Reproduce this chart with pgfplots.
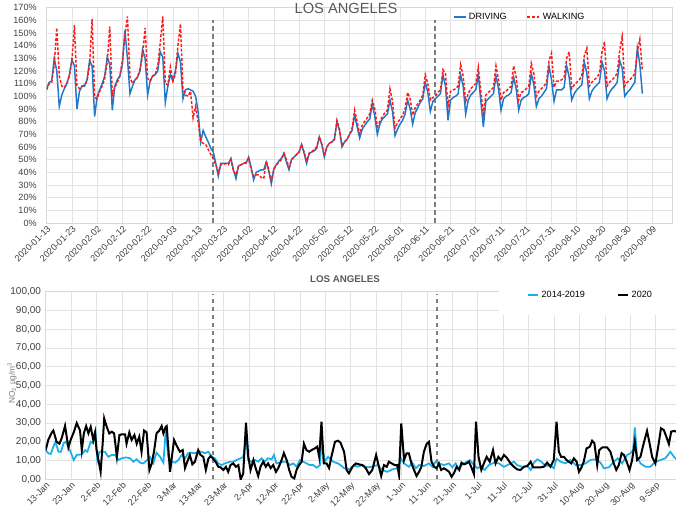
\documentclass[border=0pt]{standalone}
\usepackage{fontspec}
\setmainfont{Liberation Sans}
\usepackage{pgfplots}
\pgfplotsset{compat=1.18}
\usepackage{pgfplotstable}

\definecolor{drivecol}{HTML}{1F78C8}
\definecolor{walkcol}{HTML}{FF1A1A}
\definecolor{histcol}{HTML}{1AAEEA}
\definecolor{vline}{HTML}{7F7F7F}
\definecolor{txt}{HTML}{404040}
\definecolor{ttl}{HTML}{595959}

% day 0 = 2020-01-13, driving / walking (%)
\pgfplotstableread{
d D W
0 106 105
1 111 110
2 112 111
3 130 125
4 120 154
5 92 116
6 101 108
7 106 107
8 110 110
9 117 116
10 129 128
11 124 156
12 90 108
13 104 106
14 108 108
15 108 109
16 113 112
17 128 125
18 124 161
19 84 99
20 100 98
21 105 104
22 110 108
23 116 114
24 131 127
25 125 155
26 89 101
27 108 107
28 113 111
29 116 116
30 125 128
31 152 148
32 130 163
33 102 115
34 108 110
35 113 113
36 115 115
37 120 122
38 137 132
39 130 154
40 101 114
41 112 112
42 116 116
43 117 117
44 120 124
45 135 142
46 131 163
47 95 110
48 108 109
49 117 123
50 112 112
51 120 117
52 134 140
53 127 157
54 98 106
55 105 101
56 106 100
57 105 104
58 104 83
59 100 92
60 88 80
61 64 64
62 73 63
63 68 62
64 64 58
65 59 54
66 56 51
67 47 46
68 37 40
69 47 46
70 47 46
71 47 47
72 47 46
73 51 50
74 42 41
75 35 38
76 45 45
77 46 46
78 47 47
79 47 48
80 52 51
81 44 42
82 34 37
83 40 38
84 41 38
85 42 36
86 42 35
87 48 49
88 41 42
89 31 33
90 43 42
91 46 46
92 49 48
93 51 50
94 55 55
95 48 50
96 42 44
97 50 50
98 52 52
99 54 54
100 56 56
101 62 62
102 55 56
103 47 49
104 55 55
105 56 56
106 57 58
107 59 60
108 68 68
109 62 62
110 52 53
111 60 60
112 63 63
113 64 64
114 66 66
115 80 81
116 73 74
117 60 61
118 64 64
119 66 66
120 70 70
121 73 75
122 85 89
123 76 80
124 67 70
125 74 77
126 77 80
127 80 83
128 82 86
129 94 97
130 84 90
131 70 76
132 78 80
133 82 84
134 84 87
135 86 89
136 97 106
137 88 96
138 69 75
139 74 79
140 78 82
141 81 85
142 86 90
143 97 103
144 90 98
145 78 85
146 87 91
147 91 94
148 95 97
149 98 101
150 111 117
151 103 110
152 88 97
153 96 99
154 98 100
155 100 103
156 102 105
157 117 121
158 108 118
159 81 92
160 97 104
161 99 105
162 100 106
163 102 108
164 117 125
165 108 116
166 86 96
167 97 102
168 101 106
169 103 108
170 105 110
171 117 123
172 96 104
173 76 86
174 96 101
175 98 103
176 100 105
177 102 107
178 116 124
179 106 113
180 89 97
181 98 103
182 100 104
183 101 106
184 103 108
185 115 124
186 106 115
187 89 97
188 97 103
189 99 104
190 100 106
191 102 108
192 118 126
193 109 118
194 92 100
195 98 104
196 100 106
197 103 108
198 106 111
199 124 128
200 113 134
201 96 107
202 105 112
203 105 112
204 105 113
205 107 115
206 124 130
207 115 135
208 97 106
209 102 109
210 105 111
211 107 113
212 109 116
213 127 132
214 118 138
215 98 108
216 104 111
217 107 113
218 109 115
219 111 118
220 127 135
221 120 143
222 98 108
223 103 111
224 106 113
225 108 115
226 111 118
227 128 136
228 122 147
229 100 108
230 103 111
231 105 113
232 108 115
233 111 118
234 138 135
235 125 145
236 102 120
}\mobility

% NO2, 2014-2019 average
\pgfplotstableread{
d v
0 15.6
1 13.9
2 13.5
3 17.4
3.8 20
5 14.7
6 14.7
7 19.2
7.9 20
8.9 17.4
10 13.9
11 10.3
12.2 13
14.2 13.3
15.5 15.6
16.4 14.7
17.7 20
18.7 19.2
19.6 25
20.3 10.3
21.1 14.7
22 14.7
23.3 14.7
24.6 12
26 13
27.3 13
28.6 10.3
29.9 11.2
31.6 11.7
33.2 11.2
34.5 9.4
35.8 10.7
37.1 8.9
38.4 8.5
39.7 10
41 12
42.3 8.5
43.6 14.2
45 12
46.3 8.9
47.2 26
48.2 12
49.5 9.4
50.9 8.9
52.2 10.3
53.5 13
54.8 11.2
56 13.9
57.4 14.2
58.7 13.9
60 14.7
61.3 14.7
62.6 13.9
64 14.7
65.3 12
66.6 11.2
67.9 8.5
69.2 7.6
70.5 8.5
72.5 9.4
73.8 9.4
75.1 10.3
76.7 11.2
77.7 12
78.8 22
79.7 10.3
81 9.4
82.3 10.3
83.6 9.4
84.9 11.2
86.2 9.4
87.5 11.2
88.9 10.7
89.8 13
90.8 8.5
92.1 8.9
93.4 9.4
94.8 9.4
96.1 7.6
97.4 8.5
98.7 6.7
100 10.3
101.3 9.4
102.6 8.5
103.9 7.6
105.2 7.6
106.6 6.2
107.9 7.6
108.5 20
109.8 9.4
111.1 12
112.4 10
113.8 9
115 8.5
116 7.6
117.4 5.9
118.7 5.3
120 5.9
121.3 7.6
122.6 6.7
124.6 7.6
126.6 6.4
128.5 6.7
130.5 7.6
132.5 5
134.4 4
136.4 5.3
138.3 5.9
139.7 11.2
141 8.5
142.9 6.7
144.2 8.9
145.6 5.9
146.9 7.6
148.8 7.1
150.8 8.5
152.1 6.7
153.4 9.4
154.7 8.5
156.7 7.6
158.7 8.5
160 6.4
161.3 8.5
162.6 5.3
163.9 8
165.2 8.9
166.9 10.3
168.5 7.6
169.8 5.9
171.1 6.7
172.7 5
174.4 7.6
176.4 8.9
178.3 8.5
180.3 6.7
182.3 8
184.2 9.4
185.5 7.6
187.5 6.7
189.5 7.1
190.8 5
192.1 8.9
193.4 10.7
195 9.4
196.7 7.1
198.6 7.6
199.9 5.9
201 11
202.6 9.4
204.5 8.5
206.5 10.3
208.5 7.6
210.4 7.6
212.4 8.5
214.3 10.3
216.3 10.7
218.3 8.9
219.6 5.9
221.6 6.4
223.5 9.4
225.1 11.2
226.8 8.5
228.8 13
230.1 13.9
231.1 15.6
231.8 27.7
232.7 12
234 8.5
236 6.7
237.9 6.7
239.9 9.4
241.9 10.3
243.8 11.2
245.8 14.7
247.2 12
248.2 10.7
}\nohist

% NO2, 2020
\pgfplotstableread{
d v
0 15.6
1 21
2.4 25
3 26
4.3 20
5.4 19
6.3 22
7.6 28.5
8.9 17
9.8 21
11 25
12.2 30
13.5 26
14.2 15.6
15 24.5
15.9 28.4
16.8 24.5
17.7 28
18.7 21
19.4 25
20 15.6
21 8.5
21.6 4
22.4 19
23 32.5
24 28
25 24.5
26 25.4
26.9 24.5
28 12
29 23.6
29.9 24
31.2 24
31.8 19
32.9 25
33.8 21
34.9 23.6
35.8 19
36.8 22.7
37.7 14.7
38.7 26
39.7 25
40.8 5
41.7 8.5
42.6 14.7
43.6 24.5
44.7 26
45.6 28.4
46.3 24.5
47.2 28
47.6 28.4
48.2 17.4
48.9 4
49.9 14.7
50.5 21
51.5 18
52.8 14.7
53.9 15.6
54.8 6
55.7 9.4
56.7 13
57.7 8
58.7 9.4
60 15.6
60.9 13
62 12
63 5
64 11
64.9 12.4
65.9 11
67 9
67.9 6.7
68.8 6.4
69.9 5
70.9 6.7
71.8 4
72.7 7.6
73.8 8.5
74.8 6.7
75.8 7.6
76.7 0
77.7 3
78.8 30.2
79.7 12
80.6 5
81.7 10.3
82.6 6
83.6 1.8
84.5 6.7
85.6 9.4
86.6 6.7
87.5 8.5
88.5 6
89.5 7.6
90.6 4
91.5 6
92.8 10.3
93.7 14
94.8 10.3
95.8 5
96.7 1.4
97.8 0.5
98.7 5
99.7 7.6
100.7 9.4
101.6 19
102.6 15.6
103.7 14.7
104.6 15.6
105.9 16.5
106.8 17.4
107.6 12
108.5 30.7
109.4 8.5
110.5 8.5
111.5 6
112.4 12
113.8 20
115 20.6
116 19.5
117.4 14.7
118.4 5
119.3 3.2
120.7 6.7
122 8.5
123.3 8
124.6 7.6
125.9 6
127.2 2.8
128.5 5
130 13
131.1 6.7
132 1.8
133.1 7.6
134.2 6.7
135 9.4
136.1 8.5
137.3 7.6
138.3 7.6
139 2.3
139.9 29.8
141 10.3
142 13.9
142.9 13.9
143.9 8.5
144.9 5
145.9 1.8
146.9 4
147.8 6.7
148.8 14.7
149.9 19
150.8 20
151.8 9.4
152.8 6.7
153.8 5.9
154.7 8.5
155.6 5
156.7 5.9
157.7 5
158.7 4
159.7 1.4
160.6 3.2
161.7 6.7
162.7 5
163.6 8.9
164.6 8
165.6 8.5
166.5 9.4
167.4 6.7
168.5 2.8
169.3 30.7
170.3 12
171.4 5
172.4 8.5
173.5 12
174.7 9.4
176 15.6
177 8.5
178.1 12
179.2 10.3
180.3 13
181.6 11.2
182.9 8.5
184.2 6.7
185.5 5.3
186.8 5
188.2 6.7
189.5 7.1
190.8 9.4
191.8 6.4
193.1 6.4
194.7 6.4
196 6.7
197.3 8.9
198.6 6.7
199.9 10.3
201 30.7
201.9 14.7
202.8 12
203.9 12
204.9 10.3
205.8 9.4
206.8 8.5
207.8 11.2
208.9 9.4
209.8 4
210.7 6
211.7 9.4
212.8 16.5
214.1 17.4
215 20.6
215.9 19.2
217 7.6
217.8 15.6
219 17
220.9 17
222.2 14.7
223.5 8.5
224.5 5
225.5 7.6
226.6 13.9
227.5 13
228.6 9.4
229.7 5
230.7 10
231.8 20
232.7 10.3
234 12
235.3 19.2
236.6 25.8
237.6 19.2
238.6 12
239.9 8.5
241.2 19.2
242.1 27.2
243.2 26.3
244.2 22.7
245.2 18.8
246.1 25.4
247.2 25.8
248.2 25.4
}\nonow

\pgfplotsset{
  lachart/.style={
    scale only axis, anchor=south west,
    xmin=0, xmax=248, ymin=0,
    xtick={0,10,...,240},
    grid=major,
    major grid style={draw=gray!22, line width=0.5pt},
    axis line style={draw=gray!30},
    major tick length=0pt,
    tick label style={text=txt},
    xticklabel style={rotate=45, anchor=north east, inner sep=1pt,
      font=\fontsize{6.8}{8}\selectfont},
    /pgf/number format/assume math mode=true,
    legend cell align=left,
  },
  lockline/.style={vline, line width=1.5pt, dash pattern=on 3.5pt off 2.5pt, forget plot},
}

\begin{document}
\begin{tikzpicture}
\path[use as bounding box] (0,0) rectangle (507pt,-388.5pt);

% ---------- mobility ----------
\begin{axis}[lachart,
  at={(35pt,-167.25pt)},
  width=469.5pt, height=161.6pt,
  ymax=170, ytick={0,10,...,170},
  yticklabel={\pgfmathprintnumber{\tick}\%},
  yticklabel style={font=\fontsize{6.8}{8}\selectfont, xshift=-4pt},
  xticklabels={2020-01-13,2020-01-23,2020-02-02,2020-02-12,2020-02-22,2020-03-03,
    2020-03-13,2020-03-23,2020-04-02,2020-04-12,2020-04-22,2020-05-02,2020-05-12,
    2020-05-22,2020-06-01,2020-06-11,2020-06-21,2020-07-01,2020-07-11,2020-07-21,
    2020-07-31,2020-08-10,2020-08-20,2020-08-30,2020-09-09},
  legend style={at={(0.756,0.956)}, anchor=center, draw=none, fill=none,
    font=\fontsize{6.8}{8}\selectfont, legend columns=2, inner sep=1pt,
    /tikz/every even column/.append style={column sep=13pt}},
  legend image code/.code={\draw[#1] (0pt,0pt) -- (9pt,0pt);},
]
\addplot[lockline] coordinates {(66,0) (66,160)};
\addplot[lockline] coordinates {(154,0) (154,160)};
\addplot[drivecol, line width=1.1pt] table[x=d, y=D] {\mobility};
\addplot[walkcol, line width=1.1pt, dash pattern=on 2.2pt off 1.3pt] table[x=d, y=W] {\mobility};
\legend{DRIVING, WALKING}
\end{axis}
\node[font=\fontsize{11}{13}\selectfont, text=ttl] at (259.5pt,-6.5pt) {LOS ANGELES};

% ---------- NO2 ----------
\begin{axis}[lachart,
  at={(34.3pt,-359.5pt)},
  width=472.7pt, height=140.7pt,
  ymax=100, ytick={0,10,...,100},
  yticklabel={\pgfmathprintnumber[fixed,fixed zerofill,precision=2,use comma]{\tick}},
  yticklabel style={font=\fontsize{7.5}{9}\selectfont},
  xticklabels={13-Jan,23-Jan,2-Feb,12-Feb,22-Feb,3-Mar,13-Mar,23-Mar,2-Apr,12-Apr,
    22-Apr,2-May,12-May,22-May,1-Jun,11-Jun,21-Jun,1-Jul,11-Jul,21-Jul,31-Jul,
    10-Aug,20-Aug,30-Aug,9-Sep},
  legend style={at={(0.865,0.982)}, anchor=center, draw=none, fill=white,
    inner xsep=21pt, inner ysep=9.5pt,
    font=\fontsize{6.8}{8}\selectfont, legend columns=2,
    /tikz/every even column/.append style={column sep=22pt}},
  legend image code/.code={\draw[#1] (0pt,0pt) -- (7.5pt,0pt);},
]
\addplot[lockline] coordinates {(65.8,0) (65.8,99)};
\addplot[lockline] coordinates {(154,0) (154,99)};
\addplot[histcol, line width=1.3pt] table[x=d, y=v] {\nohist};
\addplot[black, line width=1.5pt] table[x=d, y=v] {\nonow};
\legend{2014-2019, 2020}
\end{axis}
\node[font=\bfseries\fontsize{7.3}{9}\selectfont, text=ttl] at (258.75pt,-209.6pt) {LOS ANGELES};
\node[rotate=90, font=\fontsize{6.3}{8}\selectfont, text=gray] at (9pt,-287.25pt)
  {NO\textsubscript{2} µg/m\textsuperscript{3}};
\end{tikzpicture}
\end{document}
